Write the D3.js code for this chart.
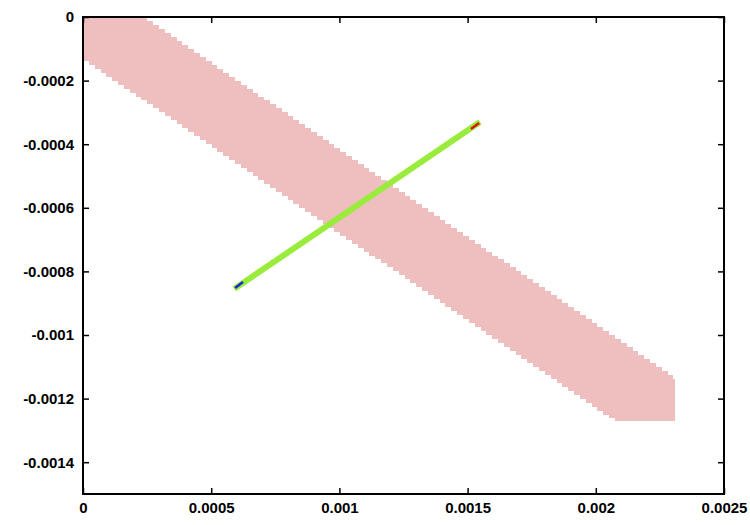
<!DOCTYPE html>
<html>
<head>
<meta charset="utf-8">
<script src="https://cdn.jsdelivr.net/npm/d3@7"></script>
<style>
  body { margin: 0; background: #fff; }
  .tick text { font-family: "Liberation Sans", Arial, sans-serif; font-size: 15px; font-weight: bold; fill: #000; }
</style>
</head>
<body>
<div id="chart"></div>
<script>
var svgWidth = 750;
var svgHeight = 525;

var margin = { top: 17, right: 26, bottom: 31, left: 83 };
var width = svgWidth - margin.left - margin.right;
var height = svgHeight - margin.top - margin.bottom;

// axis ticks
var xTicks = [0, 0.0005, 0.001, 0.0015, 0.002, 0.0025];
var xTickLabels = ["0", "0.0005", "0.001", "0.0015", "0.002", "0.0025"];
var yTicks = [0, -0.0002, -0.0004, -0.0006, -0.0008, -0.001, -0.0012, -0.0014];
var yTickLabels = ["0", "-0.0002", "-0.0004", "-0.0006", "-0.0008", "-0.001", "-0.0012", "-0.0014"];

// pink band: upper and lower edges, cut at right and bottom
var bandUpper = [[0.000234, 0], [0.002309, -0.001138]];
var bandLower = [[0, -0.000132], [0.002071, -0.00127]];
var bandRight = 0.002309;
var bandBottom = -0.00127;
var cellW = 0.0000228;
var cellH = 0.0000125;

// trajectory line (green) with start (blue) and end (red) pieces
var lineX = [0.00059, 0.001548];
var lineY = [-0.000855, -0.00033];
var startX = [0.000593, 0.000624];
var startY = [-0.000852, -0.000833];
var endX = [0.001513, 0.001545];
var endY = [-0.000352, -0.000333];

var svg = d3.select("#chart").append("svg")
    .attr("width", svgWidth)
    .attr("height", svgHeight);

var chartGroup = svg.append("g")
    .attr("transform", `translate(${margin.left}, ${margin.top})`);

var x = d3.scaleLinear().domain([0, 0.0025]).range([0, width]);
var y = d3.scaleLinear().domain([-0.0015, 0]).range([height, 0]);

chartGroup.append("clipPath").attr("id", "clip")
    .append("rect").attr("width", width).attr("height", height);

// edge value at x
function edgeAt(edge, xv) {
    var t = (xv - edge[0][0]) / (edge[1][0] - edge[0][0]);
    return edge[0][1] + t * (edge[1][1] - edge[0][1]);
}

// rasterize band into image cells
var upperPts = [];
var lowerPts = [];
d3.range(0, bandRight - 1e-9, cellW).forEach(function (x0) {
    var x1 = Math.min(x0 + cellW, bandRight);
    var xc = (x0 + x1) / 2;
    var top = Math.min(0, Math.round(edgeAt(bandUpper, xc) / cellH) * cellH);
    var bot = Math.max(bandBottom, Math.round(edgeAt(bandLower, xc) / cellH) * cellH);
    upperPts.push([x0, top], [x1, top]);
    lowerPts.push([x0, bot], [x1, bot]);
});
var bandPts = upperPts.concat(lowerPts.reverse());

var pathLine = d3.line().x(d => x(d[0])).y(d => y(d[1]));

chartGroup.append("path")
    .attr("clip-path", "url(#clip)")
    .attr("d", pathLine(bandPts) + "Z")
    .attr("fill", "#efbfbf")
    .attr("shape-rendering", "crispEdges");

chartGroup.append("path")
    .attr("d", pathLine(d3.zip(lineX, lineY)))
    .attr("fill", "none")
    .attr("stroke", "#99ec3c")
    .attr("stroke-width", 6)
    .attr("stroke-linecap", "butt");

chartGroup.append("path")
    .attr("d", pathLine(d3.zip(startX, startY)))
    .attr("fill", "none")
    .attr("stroke", "#1428d8")
    .attr("stroke-width", 2.5);

chartGroup.append("path")
    .attr("d", pathLine(d3.zip(endX, endY)))
    .attr("fill", "none")
    .attr("stroke", "#e01010")
    .attr("stroke-width", 2.5);

// axes with inward ticks on all four sides
var bottomAxis = d3.axisBottom(x).tickValues(xTicks).tickSize(-6).tickPadding(8)
    .tickFormat((d, i) => xTickLabels[i]);
var topAxis = d3.axisTop(x).tickValues(xTicks).tickSize(-6).tickFormat("");
var leftAxis = d3.axisLeft(y).tickValues(yTicks).tickSize(-6).tickPadding(9)
    .tickFormat((d, i) => yTickLabels[i]);
var rightAxis = d3.axisRight(y).tickValues(yTicks).tickSize(-6).tickFormat("");

[
    chartGroup.append("g").attr("transform", `translate(0, ${height})`).call(bottomAxis),
    chartGroup.append("g").call(topAxis),
    chartGroup.append("g").call(leftAxis),
    chartGroup.append("g").attr("transform", `translate(${width}, 0)`).call(rightAxis)
].forEach(function (g) {
    g.select(".domain").remove();
    g.selectAll(".tick line").attr("stroke", "#000").attr("stroke-width", 1.5);
});

chartGroup.append("rect")
    .attr("width", width)
    .attr("height", height)
    .attr("fill", "none")
    .attr("stroke", "#000")
    .attr("stroke-width", 2);
</script>
</body>
</html>
